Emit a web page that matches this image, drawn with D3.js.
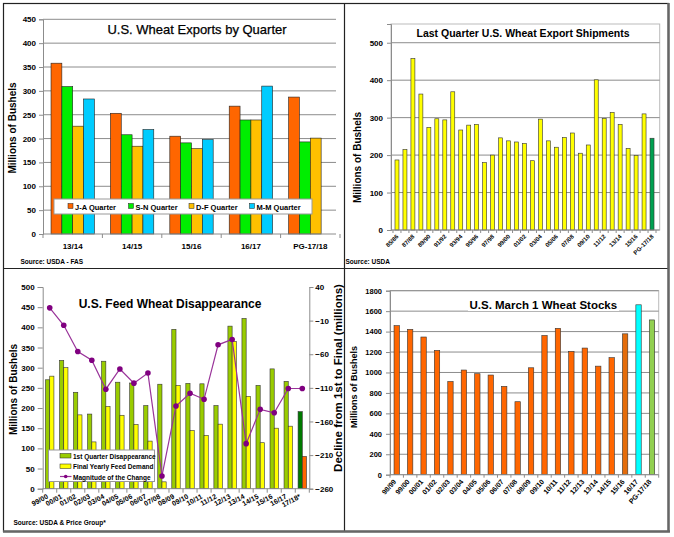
<!DOCTYPE html>
<html>
<head>
<meta charset="utf-8">
<script src="https://cdn.jsdelivr.net/npm/d3@7/dist/d3.min.js"></script>
<style>
  body { margin: 0; background: #fff; }
  svg { display: block; font-family: "Liberation Sans", Arial, sans-serif; }
</style>
</head>
<body>
<svg id="chart"></svg>
<script>
// ---- data ----
// U.S. Wheat Exports by Quarter
const qtrYears = ["13/14", "14/15", "15/16", "16/17", "PG-17/18"];
const qtrNames = ["J-A Quarter", "S-N Quarter", "D-F Quarter", "M-M Quarter"];
const jaQtr = [358, 253, 205, 268, 287];
const snQtr = [309, 208, 191, 239, 193];
const dfQtr = [226, 184, 179, 239, 201];
const mmQtr = [283, 219, 198, 310, null];
const exportTicks = [0, 50, 100, 150, 200, 250, 300, 350, 400, 450];

// Last Quarter U.S. Wheat Export Shipments
const shipYears = ["85/86", "86/87", "87/88", "88/89", "89/90", "90/91", "91/92", "92/93", "93/94",
  "94/95", "95/96", "96/97", "97/98", "98/99", "99/00", "00/01", "01/02", "02/03", "03/04", "04/05",
  "05/06", "06/07", "07/08", "08/09", "09/10", "10/11", "11/12", "12/13", "13/14", "14/15", "15/16",
  "16/17", "PG-17/18"];
const shipValues = [187, 215, 458, 363, 274, 297, 294, 369, 267, 280, 282, 180, 200, 246, 238, 235,
  231, 185, 296, 238, 221, 247, 259, 205, 227, 401, 298, 314, 282, 218, 199, 310, 245];
const shipTicks = [0, 100, 200, 300, 400, 500];

// U.S. Feed Wheat Disappearance
const feedYears = ["99/00", "00/01", "01/02", "02/03", "03/04", "04/05", "05/06", "06/07", "07/08",
  "08/09", "09/10", "10/11", "11/12", "12/13", "13/14", "14/15", "15/16", "16/17", "17/18*"];
const firstQtr = [270, 318, 239, 185, 316, 264, 262, 206, 259, 395, 261, 260, 206, 403, 422, 256, 297, 266, 191];
const finalDemand = [279, 300, 183, 116, 204, 182, 159, 118, 17, 256, 144, 132, 160, 365, 229, 114, 150, 155, 80];
const changeMag = [9, -17, -56, -69, -112, -82, -103, -88, -241, -137, -118, -127, -46, -38, -193, -142, -147, -111, -111];
const feedTicks = [0, 50, 100, 150, 200, 250, 300, 350, 400, 450, 500];
const changeTicks = [40, -10, -60, -110, -160, -210, -260];

// U.S. March 1 Wheat Stocks
const stockYears = ["98/99", "99/00", "00/01", "01/02", "02/03", "03/04", "04/05", "05/06", "06/07",
  "07/08", "08/09", "09/10", "10/11", "11/12", "12/13", "13/14", "14/15", "15/16", "16/17", "PG-17/18"];
const stockValues = [1458, 1422, 1347, 1216, 912, 1024, 988, 975, 864, 714, 1046, 1362, 1432, 1206,
  1239, 1062, 1145, 1378, 1662, 1514];
const stockTicks = [0, 200, 400, 600, 800, 1000, 1200, 1400, 1600, 1800];

// ---- setup ----
const width = 674, height = 537;
const svg = d3.select("#chart").attr("width", width).attr("height", height);
const defs = svg.append("defs");
const gridColor = "#8c8c8c";

// clip each panel to its cell
const panels = {
  tl: [3, 3, 341, 265], tr: [344, 3, 325, 265],
  bl: [3, 268, 341, 264], br: [344, 268, 325, 264]
};
Object.entries(panels).forEach(([k, r]) => {
  defs.append("clipPath").attr("id", "clip-" + k).append("rect")
    .attr("x", r[0]).attr("y", r[1]).attr("width", r[2]).attr("height", r[3]);
});

function styleAxis(g, size) {
  g.select(".domain").attr("stroke", gridColor);
  g.selectAll(".tick line").attr("stroke", gridColor);
  g.selectAll(".tick text").attr("font-size", size).attr("font-weight", "bold")
    .attr("fill", "#000").attr("font-family", "Liberation Sans, Arial, sans-serif");
}

function bandTicks(g, x, y, len) {
  const half = (x.step() - x.bandwidth()) / 2;
  const pos = x.domain().map(d => x(d) - half);
  pos.push(x(x.domain()[x.domain().length - 1]) + x.bandwidth() + half);
  g.selectAll(null).data(pos).join("line")
    .attr("x1", d => d).attr("x2", d => d)
    .attr("y1", y).attr("y2", y + len)
    .attr("stroke", gridColor);
}

function yTitle(g, text, x, y, size) {
  g.append("text").attr("transform", `translate(${x},${y}) rotate(-90)`)
    .attr("text-anchor", "middle").attr("font-size", size).attr("font-weight", "bold")
    .text(text);
}

function source(g, text, x, y) {
  g.append("text").attr("x", x).attr("y", y).attr("font-size", 6.5)
    .attr("font-weight", "bold").text(text);
}

// ---- top left: exports by quarter ----
{
  const g = svg.append("g").attr("clip-path", "url(#clip-tl)");
  const x0 = d3.scaleBand().domain(qtrYears).range([43, 340]).paddingInner(0.27).paddingOuter(0.135);
  const x1 = d3.scaleBand().domain(qtrNames).range([0, x0.bandwidth()]);
  const y = d3.scaleLinear().domain([0, 450]).range([234, 19.3]);
  const series = [jaQtr, snQtr, dfQtr, mmQtr];
  const colors = ["#FF6600", "#00EE00", "#FFC000", "#00CCFF"];

  g.append("g").selectAll("line").data(exportTicks.slice(1)).join("line")
    .attr("x1", 43).attr("x2", 336).attr("y1", d => y(d)).attr("y2", d => y(d))
    .attr("stroke", gridColor);

  g.append("text").attr("x", 197).attr("y", 34.3).attr("text-anchor", "middle")
    .attr("font-size", 13).attr("stroke", "#000").attr("stroke-width", 0.25)
    .text("U.S. Wheat Exports by Quarter");

  g.append("g").selectAll("g").data(qtrYears).join("g")
    .attr("transform", d => `translate(${x0(d)},0)`)
    .selectAll("rect")
    .data((d, i) => qtrNames.map((n, k) => ({ name: n, k, value: series[k][i] })).filter(v => v.value != null))
    .join("rect")
    .attr("x", d => x1(d.name)).attr("width", x1.bandwidth())
    .attr("y", d => y(d.value)).attr("height", d => y(0) - y(d.value))
    .attr("fill", d => colors[d.k]).attr("stroke", "#222").attr("stroke-width", 0.6);

  const ya = g.append("g").attr("transform", "translate(43,0)")
    .call(d3.axisLeft(y).tickValues(exportTicks).tickSize(4).tickPadding(3));
  styleAxis(ya, 8);
  g.append("line").attr("x1", 43).attr("x2", 336).attr("y1", y(0)).attr("y2", y(0)).attr("stroke", gridColor);
  bandTicks(g.append("g"), x0, y(0), 4);

  g.append("g").selectAll("text").data(qtrYears).join("text")
    .attr("x", d => x0(d) + x0.bandwidth() / 2).attr("y", 249)
    .attr("text-anchor", "middle").attr("font-size", 8).attr("font-weight", "bold").text(d => d);

  yTitle(g, "Millions of Bushels", 16, 128, 10);

  // legend
  const lg = g.append("g");
  lg.append("rect").attr("x", 54).attr("y", 199).attr("width", 258).attr("height", 15)
    .attr("fill", "#fff").attr("stroke", "#999");
  const lx = [68, 128.5, 189, 249.5];
  qtrNames.forEach((n, k) => {
    lg.append("rect").attr("x", lx[k]).attr("y", 203.5).attr("width", 5).attr("height", 5)
      .attr("fill", colors[k]).attr("stroke", "#222").attr("stroke-width", 0.5);
    lg.append("text").attr("x", lx[k] + 7).attr("y", 209.5).attr("font-size", 7.5)
      .attr("font-weight", "bold").text(n);
  });

  source(g, "Source: USDA - FAS", 20.5, 264);
}

// ---- top right: last quarter shipments ----
{
  const g = svg.append("g").attr("clip-path", "url(#clip-tr)");
  const x = d3.scaleBand().domain(shipYears).range([391, 658]).padding(0.5);
  const y = d3.scaleLinear().domain([0, 550]).range([230, 24]);

  g.append("rect").attr("x", 391).attr("y", 24).attr("width", 268.7).attr("height", 206)
    .attr("fill", "none").attr("stroke", "#bbb");
  g.append("g").selectAll("line").data(shipTicks.slice(1)).join("line")
    .attr("x1", 391).attr("x2", 659.7).attr("y1", d => y(d)).attr("y2", d => y(d))
    .attr("stroke", gridColor);

  g.append("text").attr("x", 523).attr("y", 36.7).attr("text-anchor", "middle")
    .attr("font-size", 10.5).attr("font-weight", "bold").text("Last Quarter U.S. Wheat Export Shipments");

  g.append("g").selectAll("rect").data(shipYears).join("rect")
    .attr("x", d => x(d)).attr("width", x.bandwidth())
    .attr("y", (d, i) => y(shipValues[i])).attr("height", (d, i) => y(0) - y(shipValues[i]))
    .attr("fill", d => d === "PG-17/18" ? "#00A050" : "#FFFF00")
    .attr("stroke", "#333").attr("stroke-width", 0.6);

  const ya = g.append("g").attr("transform", "translate(391,0)")
    .call(d3.axisLeft(y).tickValues(shipTicks).tickSize(4).tickPadding(4));
  styleAxis(ya, 8);
  g.append("line").attr("x1", 391).attr("x2", 659.7).attr("y1", y(0)).attr("y2", y(0)).attr("stroke", gridColor);
  bandTicks(g.append("g"), x, y(0), 3);

  g.append("g").selectAll("text").data(shipYears.filter((d, i) => i % 2 === 0)).join("text")
    .attr("transform", d => `translate(${x(d) + x.bandwidth() / 2 + 2},237) rotate(-45)`)
    .attr("text-anchor", "end").attr("font-size", 6).attr("font-weight", "bold").text(d => d);

  yTitle(g, "Millions of Bushels", 361, 157.5, 10);
  source(g, "Source: USDA", 345.5, 264);
}

// ---- bottom left: feed wheat disappearance ----
{
  const g = svg.append("g").attr("clip-path", "url(#clip-bl)");
  const x0 = d3.scaleBand().domain(feedYears).range([42.7, 309.3]).paddingInner(0.4).paddingOuter(0.2);
  const x1 = d3.scaleBand().domain(["first", "final"]).range([0, x0.bandwidth()]);
  const y = d3.scaleLinear().domain([0, 500]).range([488.7, 287]);
  const yR = d3.scaleLinear().domain([-260, 40]).range([488.7, 287]);
  const proj = "17/18*";

  g.append("text").attr("x", 170).attr("y", 308).attr("text-anchor", "middle")
    .attr("font-size", 12).attr("font-weight", "bold").text("U.S. Feed Wheat Disappearance");

  const grp = g.append("g").selectAll("g").data(feedYears).join("g")
    .attr("transform", d => `translate(${x0(d)},0)`);
  grp.append("rect")
    .attr("x", x1("first")).attr("width", x1.bandwidth())
    .attr("y", (d, i) => y(firstQtr[i])).attr("height", (d, i) => y(0) - y(firstQtr[i]))
    .attr("fill", d => d === proj ? "#007A00" : "#99CC00").attr("stroke", "#333").attr("stroke-width", 0.6);
  grp.append("rect")
    .attr("x", x1("final")).attr("width", x1.bandwidth())
    .attr("y", (d, i) => y(finalDemand[i])).attr("height", (d, i) => y(0) - y(finalDemand[i]))
    .attr("fill", d => d === proj ? "#FF6600" : "#FFFF00").attr("stroke", "#333").attr("stroke-width", 0.6);

  const cx = d => x0(d) + x0.bandwidth() / 2;
  g.append("path").datum(feedYears)
    .attr("d", d3.line().x(d => cx(d)).y((d, i) => yR(changeMag[i])))
    .attr("fill", "none").attr("stroke", "#993399").attr("stroke-width", 1.2);
  g.append("g").selectAll("circle").data(feedYears).join("circle")
    .attr("cx", d => cx(d)).attr("cy", (d, i) => yR(changeMag[i])).attr("r", 2.8)
    .attr("fill", "#800080");

  const ya = g.append("g").attr("transform", "translate(42.7,0)")
    .call(d3.axisLeft(y).tickValues(feedTicks).tickSize(5).tickPadding(3));
  styleAxis(ya, 8);
  const yb = g.append("g").attr("transform", "translate(309.3,0)")
    .call(d3.axisRight(yR).tickValues(changeTicks).tickSize(4).tickPadding(2));
  styleAxis(yb, 8);
  g.append("line").attr("x1", 42.7).attr("x2", 309.3).attr("y1", y(0)).attr("y2", y(0)).attr("stroke", gridColor);
  bandTicks(g.append("g"), x0, y(0), 4);

  g.append("g").selectAll("text").data(feedYears).join("text")
    .attr("transform", d => `translate(${cx(d) - 1},498) rotate(-28)`)
    .attr("text-anchor", "end").attr("font-size", 7).attr("font-weight", "bold").text(d => d);

  yTitle(g, "Millions of Bushels", 17, 389.5, 10);
  yTitle(g, "Decline from 1st to Final (millions)", 341.5, 378, 11.5);

  // legend
  const lg = g.append("g");
  lg.append("rect").attr("x", 48.5).attr("y", 450).attr("width", 106).attr("height", 31.5)
    .attr("fill", "#fff").attr("stroke", "#999");
  lg.append("rect").attr("x", 60).attr("y", 453.5).attr("width", 11).attr("height", 4.5)
    .attr("fill", "#99CC00").attr("stroke", "#222").attr("stroke-width", 0.5);
  lg.append("rect").attr("x", 60).attr("y", 464).attr("width", 11).attr("height", 4.5)
    .attr("fill", "#FFFF00").attr("stroke", "#222").attr("stroke-width", 0.5);
  lg.append("line").attr("x1", 60).attr("x2", 71.5).attr("y1", 476.5).attr("y2", 476.5)
    .attr("stroke", "#993399").attr("stroke-width", 1.2);
  lg.append("circle").attr("cx", 65.7).attr("cy", 476.5).attr("r", 1.8).attr("fill", "#800080");
  ["1st Quarter Disappearance", "Final Yearly Feed Demand", "Magnitude of the Change"].forEach((t, i) => {
    lg.append("text").attr("x", 73).attr("y", 458.5 + i * 10.5).attr("font-size", 6.5)
      .attr("font-weight", "bold").text(t);
  });

  source(g, "Source: USDA & Price Group*", 13.5, 525);
}

// ---- bottom right: March 1 stocks ----
{
  const g = svg.append("g").attr("clip-path", "url(#clip-br)");
  const x = d3.scaleBand().domain(stockYears).range([390, 658.7]).paddingInner(0.6).paddingOuter(0.3);
  const y = d3.scaleLinear().domain([0, 1800]).range([474.7, 290.7]);
  const special = { "15/16": "#E46C0A", "16/17": "#00FFFF", "PG-17/18": "#92D050" };

  g.append("rect").attr("x", 390).attr("y", 290.7).attr("width", 268.7).attr("height", 184)
    .attr("fill", "none").attr("stroke", "#bbb");
  g.append("g").selectAll("line").data(stockTicks.slice(1)).join("line")
    .attr("x1", 390).attr("x2", 658.7).attr("y1", d => y(d)).attr("y2", d => y(d))
    .attr("stroke", gridColor);

  g.append("rect").attr("x", 468).attr("y", 297).attr("width", 151).attr("height", 14).attr("fill", "#fff");
  g.append("text").attr("x", 543.3).attr("y", 308.7).attr("text-anchor", "middle")
    .attr("font-size", 11.5).attr("font-weight", "bold").text("U.S. March 1 Wheat Stocks");

  g.append("g").selectAll("rect").data(stockYears).join("rect")
    .attr("x", d => x(d)).attr("width", x.bandwidth())
    .attr("y", (d, i) => y(stockValues[i])).attr("height", (d, i) => y(0) - y(stockValues[i]))
    .attr("fill", d => special[d] || "#FF6600").attr("stroke", "#333").attr("stroke-width", 0.6);

  const ya = g.append("g").attr("transform", "translate(390,0)")
    .call(d3.axisLeft(y).tickValues(stockTicks).tickFormat(d3.format("d")).tickSize(4).tickPadding(4));
  styleAxis(ya, 7.5);
  g.append("line").attr("x1", 390).attr("x2", 658.7).attr("y1", y(0)).attr("y2", y(0)).attr("stroke", gridColor);
  bandTicks(g.append("g"), x, y(0), 3);

  g.append("g").selectAll("text").data(stockYears).join("text")
    .attr("transform", d => `translate(${x(d) + x.bandwidth() / 2},482) rotate(-48)`)
    .attr("text-anchor", "end").attr("font-size", 7).attr("font-weight", "bold").text(d => d);

  yTitle(g, "Millions of Bushels", 357, 387, 9);
}

// ---- frame ----
svg.append("rect").attr("x", 3.5).attr("y", 3.5).attr("width", 665).attr("height", 528)
  .attr("fill", "none").attr("stroke", "#222").attr("stroke-width", 1.2);
svg.append("line").attr("x1", 344.5).attr("x2", 344.5).attr("y1", 3).attr("y2", 532)
  .attr("stroke", "#222").attr("stroke-width", 1.2);
svg.append("line").attr("x1", 3).attr("x2", 669).attr("y1", 268.5).attr("y2", 268.5)
  .attr("stroke", "#222").attr("stroke-width", 1.2);
svg.append("line").attr("x1", 3).attr("x2", 670).attr("y1", 531.5).attr("y2", 531.5)
  .attr("stroke", "#666").attr("stroke-width", 2.5);
svg.append("line").attr("x1", 668.5).attr("x2", 668.5).attr("y1", 3).attr("y2", 532)
  .attr("stroke", "#666").attr("stroke-width", 2.5);
</script>
</body>
</html>
